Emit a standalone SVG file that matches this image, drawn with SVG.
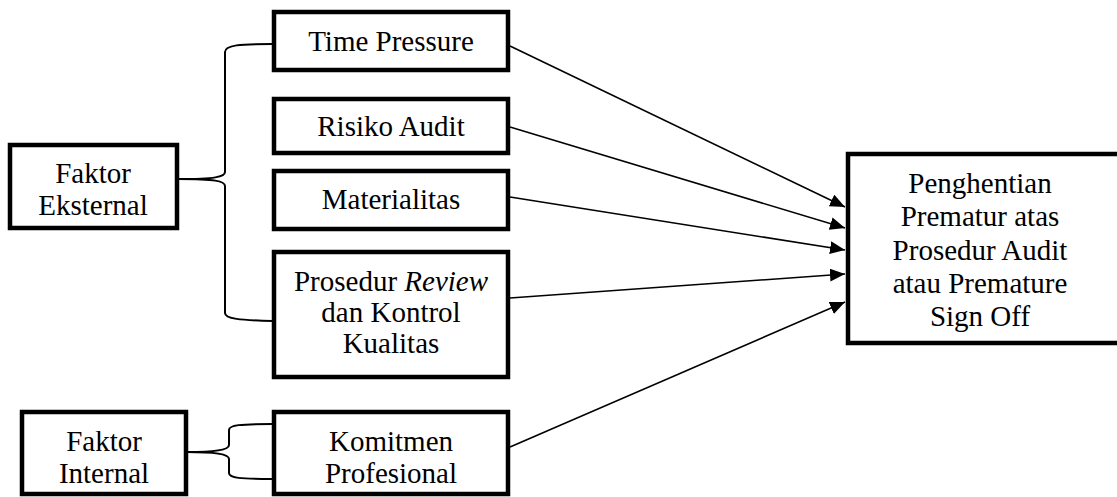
<svg xmlns="http://www.w3.org/2000/svg" width="1117" height="497" viewBox="0 0 1117 497">
<defs>
<style>
.box{fill:#fff;stroke:#000;stroke-width:4.5}
.t{font-family:"Liberation Serif","Times New Roman",serif;font-size:29px;fill:#000;text-anchor:middle}
.br{fill:none;stroke:#000;stroke-width:2}
.ar{fill:none;stroke:#000;stroke-width:1.6;marker-end:url(#ah)}
</style>
<marker id="ah" markerUnits="userSpaceOnUse" markerWidth="16" markerHeight="14" refX="15" refY="6.5" orient="auto">
<path d="M0,0 L15,6.5 L0,13 Z" fill="#000"/>
</marker>
</defs>
<rect width="1117" height="497" fill="#fff"/>
<g id="connectors">
<path class="br" d="M272,44 C240,44 225,45 225,52 L225,172 C225,177 215,179 178,179"/>
<path class="br" d="M178,179 C215,179 225,181 225,186 L225,313 C225,319 240,320 272,321"/>
<path class="br" d="M272,424 C240,424 229,425 229,430 L229,445 C229,450 215,452 187,452"/>
<path class="br" d="M187,452 C215,452 229,454 229,459 L229,473 C229,478 240,479 272,479"/>
<line class="ar" x1="510" y1="46" x2="845" y2="207"/>
<line class="ar" x1="510" y1="127" x2="845" y2="228"/>
<line class="ar" x1="510" y1="197" x2="845" y2="250"/>
<line class="ar" x1="510" y1="298" x2="845" y2="274"/>
<line class="ar" x1="510" y1="447" x2="845" y2="302"/>
</g>
<g id="faktor-eksternal">
<rect class="box" x="10" y="145" width="167" height="83"/>
<text class="t" x="93" y="183">Faktor</text>
<text class="t" x="93" y="215">Eksternal</text>
</g>
<g id="time-pressure">
<rect class="box" x="274" y="12" width="234" height="58"/>
<text class="t" x="391" y="51">Time Pressure</text>
</g>
<g id="risiko-audit">
<rect class="box" x="274" y="99" width="234" height="54"/>
<text class="t" x="391" y="136">Risiko Audit</text>
</g>
<g id="materialitas">
<rect class="box" x="274" y="171" width="234" height="58"/>
<text class="t" x="391" y="209">Materialitas</text>
</g>
<g id="prosedur-review">
<rect class="box" x="274" y="252" width="234" height="125"/>
<text class="t" x="391" y="291">Prosedur <tspan font-style="italic">Review</tspan></text>
<text class="t" x="391" y="322">dan Kontrol</text>
<text class="t" x="391" y="353">Kualitas</text>
</g>
<g id="faktor-internal">
<rect class="box" x="22" y="412" width="164" height="82"/>
<text class="t" x="104" y="451">Faktor</text>
<text class="t" x="104" y="483">Internal</text>
</g>
<g id="komitmen-profesional">
<rect class="box" x="274" y="412" width="234" height="82"/>
<text class="t" x="391" y="451">Komitmen</text>
<text class="t" x="391" y="483">Profesional</text>
</g>
<g id="penghentian-prematur">
<rect class="box" x="848" y="154" width="275" height="189"/>
<text class="t" x="980" y="193">Penghentian</text>
<text class="t" x="980" y="226">Prematur atas</text>
<text class="t" x="980" y="260">Prosedur Audit</text>
<text class="t" x="980" y="293">atau Premature</text>
<text class="t" x="980" y="326">Sign Off</text>
</g>
</svg>
